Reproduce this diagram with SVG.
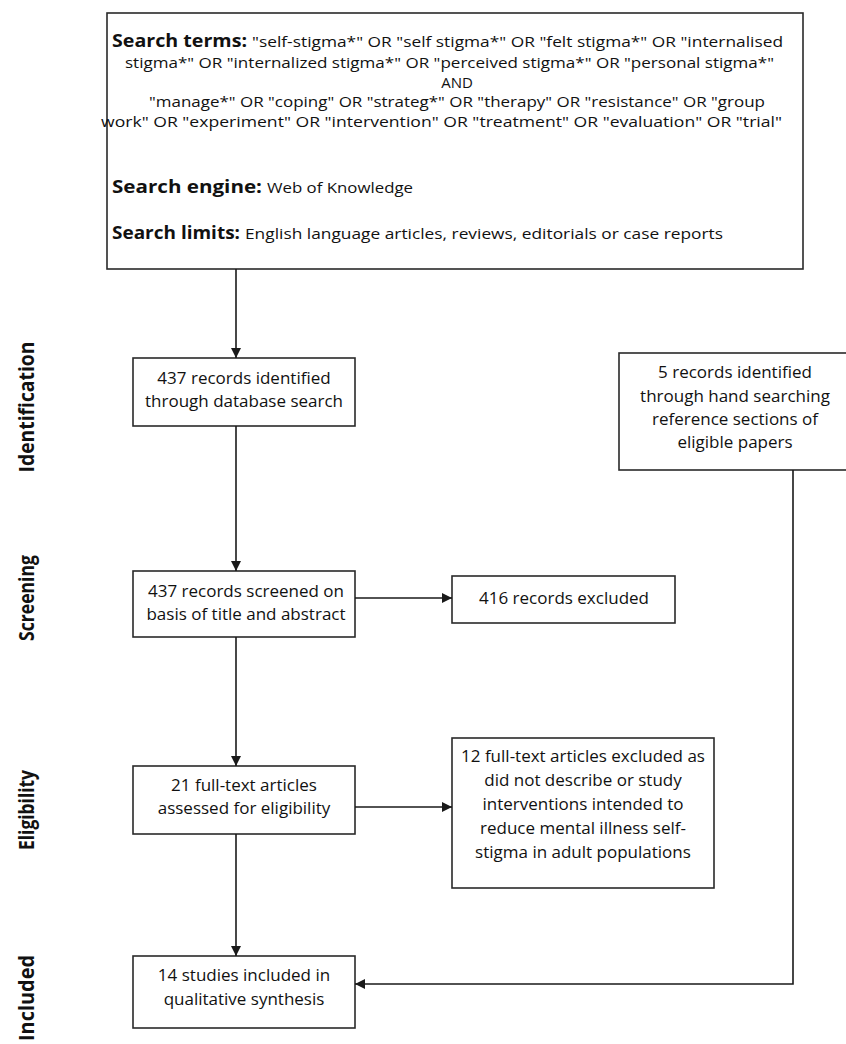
<svg xmlns="http://www.w3.org/2000/svg" width="846" height="1044" viewBox="0 0 846 1044">
<defs>
<marker id="ah" viewBox="0 0 10 10" refX="10" refY="5" markerWidth="10" markerHeight="10" markerUnits="userSpaceOnUse" orient="auto">
<path d="M0,0 L10,5 L0,10 Z" fill="#1a1a1a"/>
</marker>
<style>
.box{fill:#fff;stroke:#2a2a2a;stroke-width:1.6}
.t{font-family:"Open Sans","Noto Sans",sans-serif;font-size:15px;fill:#111}
.n{font-family:"Open Sans","Noto Sans",sans-serif;font-size:17px;fill:#111;text-anchor:middle}
.c{text-anchor:middle}
.b{font-family:"Open Sans","Noto Sans",sans-serif;font-weight:bold;font-size:17px;fill:#111}
.lbl{font-family:"Open Sans","Noto Sans",sans-serif;font-weight:bold;font-size:21px;fill:#111;text-anchor:middle}
.ln{fill:none;stroke:#1a1a1a;stroke-width:1.6}
</style>
</defs>
<rect width="846" height="1044" fill="#fff"/>

<g id="stage-labels">
<text class="lbl" transform="translate(34,407) rotate(-90)" textLength="131" lengthAdjust="spacingAndGlyphs">Identification</text>
<text class="lbl" transform="translate(34,598) rotate(-90)" textLength="86" lengthAdjust="spacingAndGlyphs">Screening</text>
<text class="lbl" transform="translate(34,810) rotate(-90)" textLength="80" lengthAdjust="spacingAndGlyphs">Eligibility</text>
<text class="lbl" transform="translate(34,998) rotate(-90)" textLength="86" lengthAdjust="spacingAndGlyphs">Included</text>
</g>

<g id="search">
<rect class="box" x="107" y="13" width="696" height="256"/>
<text class="b" x="112" y="47" textLength="135" lengthAdjust="spacingAndGlyphs">Search terms:</text>
<text class="t" x="252" y="47" textLength="531" lengthAdjust="spacingAndGlyphs">"self-stigma*" OR "self stigma*" OR "felt stigma*" OR "internalised</text>
<text class="t" x="125" y="68" textLength="649" lengthAdjust="spacingAndGlyphs">stigma*" OR "internalized stigma*" OR "perceived stigma*" OR "personal stigma*"</text>
<text class="t c" x="457" y="88">AND</text>
<text class="t" x="149" y="107" textLength="616" lengthAdjust="spacingAndGlyphs">"manage*" OR "coping" OR "strateg*" OR "therapy" OR "resistance" OR "group</text>
<text class="t" x="101" y="127" textLength="681" lengthAdjust="spacingAndGlyphs">work" OR "experiment" OR "intervention" OR "treatment" OR "evaluation" OR "trial"</text>
<text class="b" x="112" y="193" textLength="150" lengthAdjust="spacingAndGlyphs">Search engine:</text>
<text class="t" x="267" y="193" textLength="146" lengthAdjust="spacingAndGlyphs">Web of Knowledge</text>
<text class="b" x="112" y="239" textLength="128" lengthAdjust="spacingAndGlyphs">Search limits:</text>
<text class="t" x="245" y="239" textLength="478" lengthAdjust="spacingAndGlyphs">English language articles, reviews, editorials or case reports</text>
</g>

<g id="db-records">
<rect class="box" x="133" y="358" width="222" height="68"/>
<text class="n" x="244" y="384">437 records identified</text>
<text class="n" x="244" y="407">through database search</text>
</g>

<g id="hand-records">
<rect class="box" x="619" y="353" width="240" height="117"/>
<text class="n" x="735" y="378">5 records identified</text>
<text class="n" x="735" y="402">through hand searching</text>
<text class="n" x="735" y="425">reference sections of</text>
<text class="n" x="735" y="448">eligible papers</text>
</g>

<g id="screened">
<rect class="box" x="133" y="571" width="222" height="66"/>
<text class="n" x="246" y="597">437 records screened on</text>
<text class="n" x="246" y="620">basis of title and abstract</text>
</g>

<g id="excluded-416">
<rect class="box" x="452" y="576" width="223" height="47"/>
<text class="n" x="564" y="604">416 records excluded</text>
</g>

<g id="fulltext">
<rect class="box" x="133" y="766" width="222" height="68"/>
<text class="n" x="244" y="791">21 full-text articles</text>
<text class="n" x="244" y="814">assessed for eligibility</text>
</g>

<g id="excluded-12">
<rect class="box" x="452" y="738" width="262" height="150"/>
<text class="n" x="583" y="762">12 full-text articles excluded as</text>
<text class="n" x="583" y="786">did not describe or study</text>
<text class="n" x="583" y="810">interventions intended to</text>
<text class="n" x="583" y="834">reduce mental illness self-</text>
<text class="n" x="583" y="858">stigma in adult populations</text>
</g>

<g id="included">
<rect class="box" x="133" y="956" width="222" height="72"/>
<text class="n" x="244" y="981">14 studies included in</text>
<text class="n" x="244" y="1005">qualitative synthesis</text>
</g>

<g id="connectors">
<line class="ln" x1="236" y1="269" x2="236" y2="358" marker-end="url(#ah)"/>
<line class="ln" x1="236" y1="426" x2="236" y2="571" marker-end="url(#ah)"/>
<line class="ln" x1="355" y1="598" x2="452" y2="598" marker-end="url(#ah)"/>
<line class="ln" x1="236" y1="637" x2="236" y2="766" marker-end="url(#ah)"/>
<line class="ln" x1="355" y1="807" x2="452" y2="807" marker-end="url(#ah)"/>
<line class="ln" x1="236" y1="834" x2="236" y2="956" marker-end="url(#ah)"/>
<polyline class="ln" points="793,470 793,984 355,984" marker-end="url(#ah)"/>
</g>
</svg>
